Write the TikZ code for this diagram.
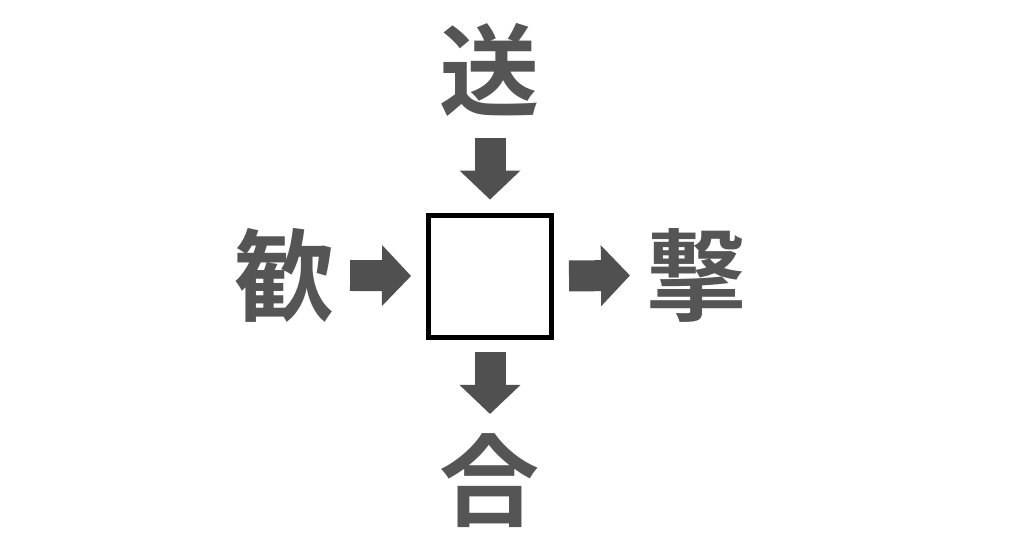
\documentclass[tikz,border=0pt]{standalone}
\usepackage{fontspec}
\newfontfamily\cjk{Noto Sans CJK JP}[BoldFont={Noto Sans CJK JP Bold}]
\usepackage{tikz}
\usetikzlibrary{
  positioning,
  arrows.meta
}
\definecolor{kanjigray}{HTML}{555555}
\definecolor{arrowgray}{HTML}{505050}
\tikzset{
  kanji/.style={
    inner sep=0pt, outer sep=0pt,
    text height=50.2pt, text depth=6.8pt,
    text=kanjigray,
    font=\cjk\bfseries\fontsize{57}{57}\selectfont
  },
  blank box/.style={
    draw=black, line width=0.1cm, fill=white,
    minimum size=2.46cm, inner sep=0pt
  },
  block arrow/.style={
    draw=arrowgray, line width=0.62cm,
    -{Triangle[width=1.22cm,length=0.58cm,line width=0pt]}
  }
}

\begin{document}
\begin{tikzpicture}[x=0.02cm,y=-0.02cm]
\useasboundingbox (0,0) rectangle (1024,538);
\node[blank box] (box) at (490,276.5) {};
\node[kanji] (send) at (490,70) {送};
\node[kanji] (welcome) at (285,275) {歓};
\node[kanji] (attack) at (697,275) {撃};
\node[kanji] (fit) at (490,480) {合};
\foreach \from/\to/\pre/\post in {%
  send/box/18/13,
  welcome/box/15/15,
  box/attack/15/17,
  box/fit/12/16%
} {
  \draw[block arrow, shorten <=\pre*0.02cm, shorten >=\post*0.02cm]
    (\from) -- (\to);
}
\end{tikzpicture}
\end{document}
